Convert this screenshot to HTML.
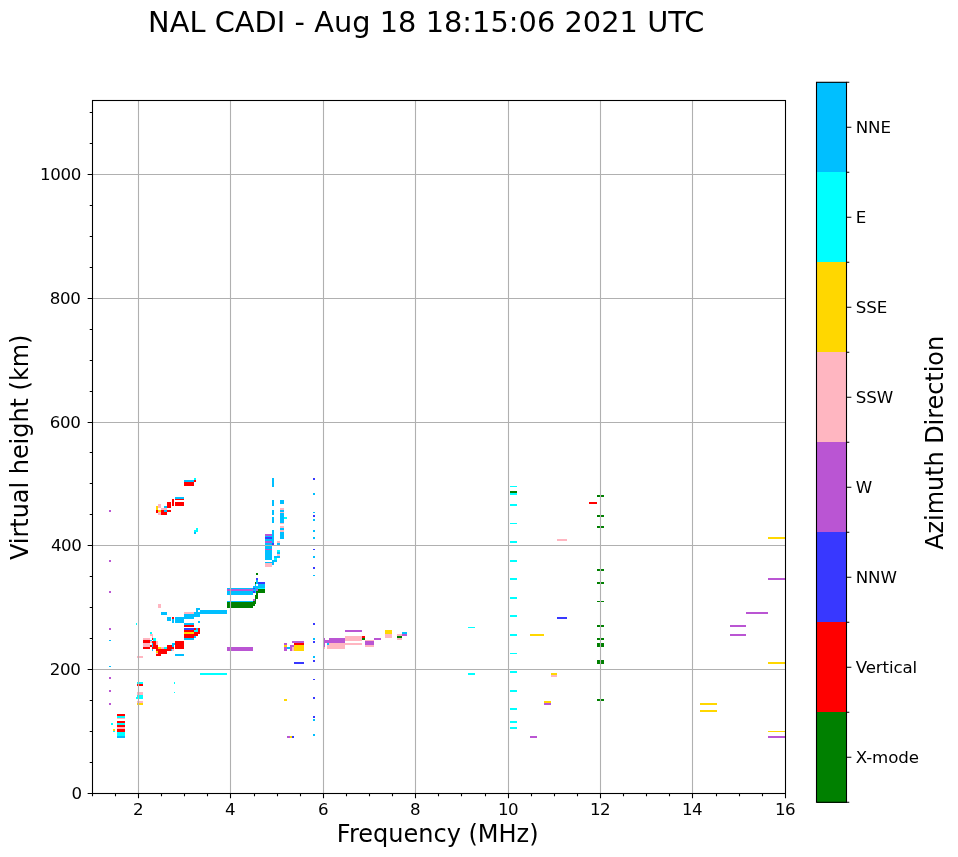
<!DOCTYPE html>
<html lang="en"><head><meta charset="utf-8"><title>NAL CADI ionogram</title>
<style>html,body{margin:0;padding:0;background:#fff}body{width:958px;height:857px;overflow:hidden}svg{display:block}text{font-family:"DejaVu Sans","Liberation Sans",sans-serif;fill:#000}.t{font-size:16.67px;letter-spacing:-0.37px}.c{font-size:16.67px;letter-spacing:-0.14px}.l{font-size:24px}.g{stroke:#b0b0b0;stroke-width:1.1}.k{stroke:#000;stroke-width:1.1}.d rect{shape-rendering:crispEdges}</style></head><body>
<svg width="958" height="857" viewBox="0 0 958 857">
<rect width="958" height="857" fill="#fff"/>
<text x="148.1" y="31.6" style="font-size:28.8px;letter-spacing:0.042px">NAL CADI - Aug 18 18:15:06 2021 UTC</text>
<g class="d">
<rect x="109.0" y="509.9" width="2.0" height="2.1" fill="#ba55d3"/>
<rect x="183.9" y="482.0" width="10.0" height="4.0" fill="#ff0000"/>
<rect x="183.9" y="480.1" width="10.0" height="1.9" fill="#00bfff"/>
<rect x="193.9" y="478.0" width="2.1" height="2.1" fill="#00ffff"/>
<rect x="193.9" y="480.1" width="2.1" height="1.9" fill="#ff0000"/>
<rect x="175.0" y="497.0" width="8.9" height="1.9" fill="#00bfff"/>
<rect x="175.0" y="498.9" width="8.9" height="1.3" fill="#ff0000"/>
<rect x="175.0" y="502.0" width="8.9" height="4.0" fill="#ff0000"/>
<rect x="171.9" y="498.9" width="1.9" height="7.1" fill="#ff0000"/>
<rect x="167.0" y="502.0" width="4.0" height="6.0" fill="#ff0000"/>
<rect x="164.0" y="506.0" width="3.0" height="2.0" fill="#00bfff"/>
<rect x="158.0" y="504.0" width="3.0" height="4.0" fill="#ffb6c1"/>
<rect x="156.0" y="506.0" width="2.0" height="3.9" fill="#ffd700"/>
<rect x="161.0" y="508.0" width="6.0" height="1.9" fill="#ffb6c1"/>
<rect x="156.0" y="509.9" width="2.0" height="3.0" fill="#ff0000"/>
<rect x="158.0" y="509.9" width="3.0" height="2.1" fill="#ffd700"/>
<rect x="161.0" y="509.9" width="3.0" height="2.1" fill="#ff0000"/>
<rect x="164.0" y="509.9" width="3.0" height="2.1" fill="#00bfff"/>
<rect x="167.0" y="509.9" width="4.0" height="2.1" fill="#ff0000"/>
<rect x="158.0" y="512.0" width="3.0" height="2.9" fill="#ffb6c1"/>
<rect x="161.0" y="512.0" width="6.0" height="2.9" fill="#ff0000"/>
<rect x="196.1" y="528.1" width="2.0" height="4.0" fill="#00ffff"/>
<rect x="193.9" y="529.9" width="2.1" height="2.8" fill="#00ffff"/>
<rect x="193.9" y="532.1" width="2.1" height="1.9" fill="#00bfff"/>
<rect x="137.0" y="656.3" width="5.9" height="1.4" fill="#ffb6c1"/>
<rect x="150.0" y="631.9" width="2.2" height="2.1" fill="#00ffff"/>
<rect x="150.0" y="634.2" width="2.8" height="1.8" fill="#ffb6c1"/>
<rect x="152.0" y="636.0" width="1.0" height="1.9" fill="#ffb6c1"/>
<rect x="152.0" y="637.8" width="1.0" height="2.2" fill="#ff0000"/>
<rect x="153.0" y="638.0" width="3.1" height="3.0" fill="#00ffff"/>
<rect x="150.0" y="639.9" width="2.2" height="1.1" fill="#00bfff"/>
<rect x="143.0" y="638.2" width="7.0" height="1.9" fill="#ffb6c1"/>
<rect x="143.0" y="640.0" width="7.0" height="2.9" fill="#ff0000"/>
<rect x="143.0" y="643.0" width="7.0" height="3.9" fill="#ffb6c1"/>
<rect x="143.0" y="646.9" width="7.0" height="2.1" fill="#ff0000"/>
<rect x="150.4" y="641.0" width="1.6" height="2.2" fill="#ffb6c1"/>
<rect x="150.0" y="645.0" width="2.0" height="1.9" fill="#ff0000"/>
<rect x="152.0" y="641.0" width="4.1" height="8.0" fill="#ff0000"/>
<rect x="152.0" y="643.0" width="1.0" height="3.9" fill="#00bfff"/>
<rect x="156.0" y="641.0" width="1.9" height="4.1" fill="#ffb6c1"/>
<rect x="156.0" y="645.0" width="1.9" height="5.9" fill="#ff0000"/>
<rect x="152.0" y="649.0" width="1.0" height="2.0" fill="#00bfff"/>
<rect x="158.0" y="646.9" width="3.1" height="2.1" fill="#ffd700"/>
<rect x="161.1" y="646.9" width="3.0" height="2.1" fill="#ffb6c1"/>
<rect x="164.1" y="646.9" width="2.9" height="2.1" fill="#00ffff"/>
<rect x="156.0" y="649.0" width="14.9" height="2.0" fill="#ff0000"/>
<rect x="167.0" y="645.0" width="5.0" height="3.9" fill="#ff0000"/>
<rect x="172.0" y="646.9" width="2.1" height="2.1" fill="#ff0000"/>
<rect x="172.0" y="643.0" width="3.0" height="2.1" fill="#00bfff"/>
<rect x="172.0" y="645.0" width="2.1" height="1.9" fill="#00bfff"/>
<rect x="175.0" y="641.0" width="9.0" height="8.0" fill="#ff0000"/>
<rect x="171.0" y="649.0" width="1.1" height="2.0" fill="#00bfff"/>
<rect x="172.0" y="649.0" width="2.1" height="2.0" fill="#ffb6c1"/>
<rect x="156.0" y="651.0" width="1.9" height="2.0" fill="#ffd700"/>
<rect x="158.0" y="651.0" width="9.0" height="2.8" fill="#ff0000"/>
<rect x="156.0" y="653.0" width="1.9" height="0.9" fill="#ffb6c1"/>
<rect x="156.0" y="653.9" width="5.0" height="2.1" fill="#ff0000"/>
<rect x="175.0" y="653.9" width="9.0" height="2.1" fill="#00bfff"/>
<rect x="158.0" y="604.0" width="3.0" height="4.0" fill="#ffb6c1"/>
<rect x="161.0" y="611.9" width="6.1" height="3.1" fill="#00bfff"/>
<rect x="167.1" y="616.9" width="3.9" height="4.1" fill="#00bfff"/>
<rect x="172.0" y="616.9" width="2.0" height="2.1" fill="#ff0000"/>
<rect x="172.0" y="619.0" width="2.0" height="4.0" fill="#00bfff"/>
<rect x="175.0" y="616.9" width="9.0" height="6.1" fill="#00bfff"/>
<rect x="184.0" y="611.9" width="10.0" height="2.0" fill="#ffb6c1"/>
<rect x="184.0" y="613.9" width="10.0" height="5.1" fill="#00bfff"/>
<rect x="194.0" y="611.9" width="6.1" height="5.0" fill="#00bfff"/>
<rect x="196.0" y="608.0" width="4.1" height="2.1" fill="#00bfff"/>
<rect x="196.0" y="610.0" width="2.0" height="1.9" fill="#00bfff"/>
<rect x="200.0" y="610.0" width="26.9" height="3.9" fill="#00bfff"/>
<rect x="198.0" y="621.0" width="2.1" height="2.0" fill="#00bfff"/>
<rect x="184.0" y="623.0" width="10.0" height="1.9" fill="#00bfff"/>
<rect x="184.0" y="624.9" width="10.0" height="2.0" fill="#ff0000"/>
<rect x="184.0" y="628.0" width="10.0" height="1.9" fill="#3838ff"/>
<rect x="184.0" y="629.9" width="10.0" height="2.1" fill="#ff0000"/>
<rect x="184.0" y="632.0" width="10.0" height="2.0" fill="#ffd700"/>
<rect x="184.0" y="634.0" width="10.0" height="4.0" fill="#ff0000"/>
<rect x="184.0" y="638.0" width="10.0" height="2.0" fill="#00bfff"/>
<rect x="194.0" y="628.0" width="2.0" height="1.9" fill="#ff0000"/>
<rect x="196.0" y="628.0" width="2.0" height="1.9" fill="#00bfff"/>
<rect x="198.0" y="628.0" width="2.1" height="1.9" fill="#ff0000"/>
<rect x="194.0" y="629.9" width="4.0" height="2.1" fill="#00ffff"/>
<rect x="198.0" y="629.9" width="2.1" height="2.1" fill="#ff0000"/>
<rect x="194.0" y="632.0" width="6.1" height="2.0" fill="#ff0000"/>
<rect x="194.0" y="634.0" width="4.0" height="2.0" fill="#ff0000"/>
<rect x="194.0" y="636.0" width="2.0" height="2.0" fill="#00bfff"/>
<rect x="256.0" y="573.0" width="2.0" height="2.0" fill="#008000"/>
<rect x="256.0" y="578.0" width="2.0" height="1.9" fill="#3838ff"/>
<rect x="256.0" y="579.9" width="2.0" height="4.1" fill="#00bfff"/>
<rect x="255.0" y="581.9" width="1.0" height="2.1" fill="#008000"/>
<rect x="258.0" y="581.9" width="7.0" height="2.1" fill="#3838ff"/>
<rect x="258.0" y="584.0" width="7.0" height="3.9" fill="#00bfff"/>
<rect x="255.0" y="584.0" width="1.0" height="2.2" fill="#00bfff"/>
<rect x="258.0" y="587.9" width="7.0" height="1.1" fill="#00ffff"/>
<rect x="258.0" y="589.0" width="7.0" height="3.9" fill="#008000"/>
<rect x="253.0" y="586.0" width="3.0" height="7.0" fill="#00bfff"/>
<rect x="253.0" y="587.9" width="2.0" height="1.1" fill="#3838ff"/>
<rect x="253.0" y="591.0" width="2.0" height="1.9" fill="#3838ff"/>
<rect x="256.0" y="586.0" width="2.0" height="3.0" fill="#00bfff"/>
<rect x="256.0" y="589.0" width="2.0" height="2.0" fill="#ba55d3"/>
<rect x="227.0" y="587.9" width="26.0" height="1.1" fill="#00bfff"/>
<rect x="227.0" y="589.0" width="26.0" height="2.0" fill="#ba55d3"/>
<rect x="227.0" y="591.0" width="26.0" height="3.9" fill="#00bfff"/>
<rect x="256.0" y="591.0" width="2.0" height="8.0" fill="#008000"/>
<rect x="255.0" y="594.9" width="1.0" height="9.1" fill="#008000"/>
<rect x="253.0" y="599.0" width="2.0" height="2.0" fill="#ba55d3"/>
<rect x="227.0" y="601.0" width="26.0" height="1.0" fill="#00bfff"/>
<rect x="227.0" y="602.0" width="26.0" height="6.0" fill="#008000"/>
<rect x="253.0" y="601.0" width="2.0" height="5.0" fill="#008000"/>
<rect x="226.9" y="646.9" width="26.0" height="3.8" fill="#ba55d3"/>
<rect x="271.9" y="477.9" width="2.1" height="9.0" fill="#00bfff"/>
<rect x="271.9" y="500.0" width="2.1" height="5.8" fill="#00bfff"/>
<rect x="271.9" y="510.0" width="2.1" height="4.7" fill="#00bfff"/>
<rect x="271.9" y="516.9" width="2.1" height="5.8" fill="#00bfff"/>
<rect x="271.9" y="530.1" width="2.1" height="15.8" fill="#00bfff"/>
<rect x="271.9" y="543.0" width="2.1" height="2.3" fill="#3838ff"/>
<rect x="264.9" y="534.0" width="7.0" height="2.0" fill="#ba55d3"/>
<rect x="264.9" y="536.0" width="7.0" height="1.2" fill="#00bfff"/>
<rect x="264.9" y="537.1" width="7.0" height="1.8" fill="#3838ff"/>
<rect x="264.9" y="538.9" width="7.0" height="2.3" fill="#00bfff"/>
<rect x="264.9" y="541.2" width="7.0" height="1.8" fill="#ba55d3"/>
<rect x="264.9" y="543.0" width="7.0" height="6.1" fill="#00bfff"/>
<rect x="264.9" y="549.0" width="7.0" height="1.1" fill="#ba55d3"/>
<rect x="264.9" y="550.1" width="7.0" height="9.8" fill="#00bfff"/>
<rect x="264.9" y="562.0" width="7.0" height="1.1" fill="#00bfff"/>
<rect x="264.9" y="563.0" width="7.0" height="3.9" fill="#ffb6c1"/>
<rect x="280.0" y="500.0" width="4.1" height="4.1" fill="#00bfff"/>
<rect x="280.0" y="507.9" width="4.1" height="2.0" fill="#ffb6c1"/>
<rect x="280.0" y="509.9" width="4.1" height="2.1" fill="#00bfff"/>
<rect x="280.0" y="512.0" width="4.1" height="0.9" fill="#ffb6c1"/>
<rect x="280.0" y="513.0" width="4.1" height="9.8" fill="#00bfff"/>
<rect x="280.0" y="522.8" width="4.1" height="1.2" fill="#ffb6c1"/>
<rect x="280.0" y="526.0" width="4.1" height="2.0" fill="#ffb6c1"/>
<rect x="280.0" y="528.0" width="4.1" height="2.1" fill="#00bfff"/>
<rect x="280.0" y="530.1" width="4.1" height="2.0" fill="#ffb6c1"/>
<rect x="280.0" y="532.1" width="4.1" height="6.8" fill="#00bfff"/>
<rect x="284.1" y="516.9" width="3.0" height="1.9" fill="#00ffff"/>
<rect x="277.1" y="541.0" width="2.9" height="2.0" fill="#ffb6c1"/>
<rect x="277.1" y="543.0" width="2.9" height="2.3" fill="#00bfff"/>
<rect x="277.1" y="550.1" width="2.9" height="2.0" fill="#00ffff"/>
<rect x="277.1" y="552.1" width="2.9" height="2.0" fill="#00bfff"/>
<rect x="277.1" y="554.0" width="2.9" height="2.0" fill="#ffb6c1"/>
<rect x="274.0" y="556.0" width="6.0" height="1.8" fill="#00bfff"/>
<rect x="274.0" y="557.8" width="3.0" height="2.1" fill="#00ffff"/>
<rect x="271.9" y="559.9" width="5.1" height="2.1" fill="#00bfff"/>
<rect x="271.9" y="562.0" width="2.1" height="2.8" fill="#00bfff"/>
<rect x="313.0" y="478.0" width="2.1" height="2.0" fill="#3838ff"/>
<rect x="313.0" y="493.0" width="2.1" height="2.0" fill="#00bfff"/>
<rect x="313.0" y="512.0" width="2.1" height="0.8" fill="#00bfff"/>
<rect x="313.0" y="515.1" width="2.1" height="2.0" fill="#3838ff"/>
<rect x="313.0" y="519.0" width="2.1" height="2.0" fill="#00bfff"/>
<rect x="313.0" y="530.0" width="2.1" height="2.0" fill="#00bfff"/>
<rect x="313.0" y="537.0" width="2.1" height="2.0" fill="#00bfff"/>
<rect x="313.0" y="549.1" width="2.1" height="1.0" fill="#3838ff"/>
<rect x="313.0" y="556.1" width="2.1" height="2.0" fill="#00bfff"/>
<rect x="313.0" y="567.0" width="2.1" height="2.0" fill="#3838ff"/>
<rect x="313.0" y="575.0" width="2.1" height="1.0" fill="#00bfff"/>
<rect x="313.0" y="623.1" width="2.1" height="2.0" fill="#3838ff"/>
<rect x="313.0" y="678.9" width="2.1" height="1.0" fill="#3838ff"/>
<rect x="313.0" y="697.1" width="2.1" height="2.0" fill="#3838ff"/>
<rect x="313.0" y="716.0" width="2.1" height="2.0" fill="#3838ff"/>
<rect x="313.0" y="719.0" width="2.1" height="2.0" fill="#00bfff"/>
<rect x="313.0" y="734.0" width="2.1" height="2.0" fill="#00bfff"/>
<rect x="284.0" y="643.0" width="3.0" height="2.1" fill="#ba55d3"/>
<rect x="284.0" y="645.0" width="3.0" height="1.9" fill="#ffd700"/>
<rect x="284.0" y="646.9" width="3.0" height="4.1" fill="#ba55d3"/>
<rect x="287.0" y="646.9" width="2.9" height="2.1" fill="#00bfff"/>
<rect x="290.0" y="645.0" width="2.0" height="5.9" fill="#ba55d3"/>
<rect x="292.0" y="645.0" width="2.0" height="1.9" fill="#ba55d3"/>
<rect x="292.0" y="646.9" width="2.0" height="4.1" fill="#ffb6c1"/>
<rect x="292.0" y="641.0" width="12.0" height="2.0" fill="#ba55d3"/>
<rect x="294.0" y="643.0" width="10.0" height="2.1" fill="#ff0000"/>
<rect x="294.0" y="645.0" width="10.0" height="5.9" fill="#ffd700"/>
<rect x="294.0" y="662.0" width="10.0" height="2.0" fill="#3838ff"/>
<rect x="313.0" y="638.0" width="2.1" height="2.1" fill="#00bfff"/>
<rect x="313.0" y="641.0" width="2.1" height="2.0" fill="#3838ff"/>
<rect x="313.0" y="656.0" width="2.1" height="2.0" fill="#00bfff"/>
<rect x="313.0" y="660.0" width="2.1" height="1.9" fill="#3838ff"/>
<rect x="324.0" y="638.0" width="1.0" height="9.0" fill="#ba55d3"/>
<rect x="325.0" y="640.0" width="11.0" height="2.9" fill="#ba55d3"/>
<rect x="329.0" y="638.0" width="7.0" height="2.1" fill="#ba55d3"/>
<rect x="327.0" y="643.0" width="9.0" height="6.0" fill="#ffb6c1"/>
<rect x="327.0" y="643.0" width="2.0" height="2.1" fill="#00bfff"/>
<rect x="324.0" y="646.9" width="1.0" height="2.1" fill="#ffb6c1"/>
<rect x="325.0" y="640.0" width="20.0" height="2.9" fill="#ba55d3"/>
<rect x="329.2" y="638.0" width="15.9" height="2.1" fill="#ba55d3"/>
<rect x="327.1" y="643.0" width="18.0" height="5.9" fill="#ffb6c1"/>
<rect x="327.1" y="643.0" width="2.1" height="2.1" fill="#00bfff"/>
<rect x="345.1" y="630.0" width="16.9" height="2.0" fill="#ba55d3"/>
<rect x="345.1" y="636.0" width="16.9" height="4.9" fill="#ffb6c1"/>
<rect x="345.1" y="643.0" width="16.9" height="2.1" fill="#ffb6c1"/>
<rect x="362.0" y="636.0" width="3.1" height="2.0" fill="#ff0000"/>
<rect x="362.0" y="638.0" width="3.1" height="2.1" fill="#008000"/>
<rect x="365.1" y="640.0" width="8.9" height="0.8" fill="#ffb6c1"/>
<rect x="365.1" y="640.9" width="8.9" height="4.2" fill="#ba55d3"/>
<rect x="365.1" y="645.1" width="8.9" height="1.9" fill="#ffb6c1"/>
<rect x="374.0" y="638.0" width="7.1" height="2.1" fill="#ba55d3"/>
<rect x="385.0" y="630.0" width="7.0" height="4.0" fill="#ffd700"/>
<rect x="385.0" y="634.0" width="7.0" height="4.0" fill="#ffb6c1"/>
<rect x="397.0" y="634.0" width="4.9" height="2.0" fill="#ffb6c1"/>
<rect x="397.0" y="636.0" width="4.9" height="2.0" fill="#008000"/>
<rect x="397.0" y="638.0" width="4.9" height="1.9" fill="#ffb6c1"/>
<rect x="401.9" y="632.0" width="5.0" height="2.0" fill="#00bfff"/>
<rect x="401.9" y="634.0" width="5.0" height="2.0" fill="#ba55d3"/>
<rect x="109.0" y="666.0" width="2.1" height="0.8" fill="#00bfff"/>
<rect x="109.0" y="676.9" width="2.1" height="2.1" fill="#ba55d3"/>
<rect x="109.0" y="689.9" width="2.1" height="2.1" fill="#ba55d3"/>
<rect x="109.0" y="702.9" width="2.1" height="2.1" fill="#ba55d3"/>
<rect x="137.0" y="682.0" width="6.1" height="2.0" fill="#00ffff"/>
<rect x="137.0" y="683.9" width="6.1" height="2.1" fill="#ff0000"/>
<rect x="137.0" y="692.0" width="6.1" height="3.0" fill="#ffb6c1"/>
<rect x="137.0" y="695.0" width="6.1" height="4.0" fill="#00ffff"/>
<rect x="135.9" y="697.0" width="1.0" height="2.0" fill="#00ffff"/>
<rect x="137.0" y="700.9" width="6.1" height="2.1" fill="#ffb6c1"/>
<rect x="137.0" y="703.0" width="6.1" height="2.0" fill="#ffd700"/>
<rect x="173.9" y="682.0" width="1.0" height="2.0" fill="#00ffff"/>
<rect x="173.9" y="692.0" width="1.0" height="0.9" fill="#00ffff"/>
<rect x="117.0" y="714.0" width="7.9" height="2.0" fill="#ff0000"/>
<rect x="117.0" y="716.0" width="7.9" height="2.1" fill="#00ffff"/>
<rect x="117.0" y="718.0" width="7.9" height="0.9" fill="#ffb6c1"/>
<rect x="117.0" y="721.0" width="7.9" height="2.0" fill="#ff0000"/>
<rect x="117.0" y="723.0" width="7.9" height="2.1" fill="#00ffff"/>
<rect x="117.0" y="725.0" width="7.9" height="2.0" fill="#ff0000"/>
<rect x="117.0" y="727.0" width="7.9" height="2.1" fill="#ffb6c1"/>
<rect x="117.0" y="729.0" width="7.9" height="3.0" fill="#ff0000"/>
<rect x="117.0" y="732.0" width="7.9" height="3.9" fill="#00ffff"/>
<rect x="117.0" y="735.9" width="7.9" height="2.1" fill="#00bfff"/>
<rect x="111.0" y="723.0" width="2.0" height="2.1" fill="#00ffff"/>
<rect x="113.0" y="729.0" width="2.0" height="2.0" fill="#ffd700"/>
<rect x="113.0" y="731.0" width="2.0" height="1.0" fill="#00ffff"/>
<rect x="108.9" y="559.9" width="2.0" height="2.0" fill="#ba55d3"/>
<rect x="108.9" y="590.9" width="2.0" height="2.0" fill="#ba55d3"/>
<rect x="108.9" y="628.0" width="2.0" height="2.0" fill="#ba55d3"/>
<rect x="108.9" y="639.9" width="2.0" height="1.0" fill="#00bfff"/>
<rect x="136.0" y="623.0" width="1.0" height="2.0" fill="#00ffff"/>
<rect x="200.0" y="672.8" width="27.0" height="2.2" fill="#00ffff"/>
<rect x="510.1" y="485.7" width="6.9" height="1.3" fill="#00ffff"/>
<rect x="510.1" y="490.9" width="6.9" height="2.2" fill="#008000"/>
<rect x="510.1" y="493.1" width="6.9" height="1.9" fill="#00ffff"/>
<rect x="510.1" y="504.0" width="6.9" height="2.0" fill="#00ffff"/>
<rect x="510.1" y="522.7" width="6.9" height="1.3" fill="#00ffff"/>
<rect x="510.1" y="541.0" width="6.9" height="2.0" fill="#00ffff"/>
<rect x="510.1" y="560.1" width="6.9" height="1.9" fill="#00ffff"/>
<rect x="510.1" y="578.0" width="6.9" height="2.0" fill="#00ffff"/>
<rect x="510.1" y="597.1" width="6.9" height="2.0" fill="#00ffff"/>
<rect x="556.9" y="539.0" width="10.2" height="1.9" fill="#ffb6c1"/>
<rect x="510.0" y="615.0" width="7.0" height="2.0" fill="#00ffff"/>
<rect x="510.0" y="634.1" width="7.0" height="2.0" fill="#00ffff"/>
<rect x="510.0" y="652.8" width="7.0" height="1.1" fill="#00ffff"/>
<rect x="510.0" y="671.0" width="7.0" height="2.0" fill="#00ffff"/>
<rect x="510.0" y="690.1" width="7.0" height="2.0" fill="#00ffff"/>
<rect x="510.0" y="708.0" width="7.0" height="2.0" fill="#00ffff"/>
<rect x="510.0" y="721.1" width="7.0" height="2.0" fill="#00ffff"/>
<rect x="510.0" y="727.1" width="7.0" height="2.0" fill="#00ffff"/>
<rect x="468.0" y="626.7" width="7.0" height="1.3" fill="#00ffff"/>
<rect x="468.0" y="672.9" width="7.0" height="2.0" fill="#00ffff"/>
<rect x="557.0" y="616.9" width="10.0" height="2.0" fill="#3838ff"/>
<rect x="529.9" y="634.1" width="14.0" height="2.0" fill="#ffd700"/>
<rect x="550.9" y="672.9" width="6.0" height="2.0" fill="#ffd700"/>
<rect x="550.9" y="674.9" width="6.0" height="2.0" fill="#ffb6c1"/>
<rect x="543.9" y="701.0" width="7.0" height="2.0" fill="#ffd700"/>
<rect x="543.9" y="703.0" width="7.0" height="2.0" fill="#ba55d3"/>
<rect x="529.9" y="735.9" width="7.0" height="2.0" fill="#ba55d3"/>
<rect x="596.9" y="495.1" width="7.3" height="2.0" fill="#008000"/>
<rect x="589.0" y="501.8" width="8.1" height="2.0" fill="#ff0000"/>
<rect x="596.9" y="515.0" width="7.3" height="2.0" fill="#008000"/>
<rect x="596.9" y="525.9" width="7.3" height="2.0" fill="#008000"/>
<rect x="596.9" y="569.1" width="7.3" height="2.0" fill="#008000"/>
<rect x="596.9" y="581.9" width="7.3" height="2.0" fill="#008000"/>
<rect x="596.9" y="601.0" width="7.3" height="1.1" fill="#008000"/>
<rect x="596.9" y="625.1" width="7.3" height="2.0" fill="#008000"/>
<rect x="596.9" y="637.9" width="7.3" height="1.7" fill="#008000"/>
<rect x="596.9" y="643.0" width="7.3" height="3.9" fill="#008000"/>
<rect x="596.9" y="660.1" width="7.3" height="3.9" fill="#008000"/>
<rect x="596.9" y="699.0" width="7.3" height="2.0" fill="#008000"/>
<rect x="768.1" y="536.9" width="17.4" height="2.0" fill="#ffd700"/>
<rect x="768.1" y="577.7" width="17.4" height="2.0" fill="#ba55d3"/>
<rect x="746.1" y="611.8" width="22.0" height="2.1" fill="#ba55d3"/>
<rect x="730.0" y="625.0" width="16.1" height="1.9" fill="#ba55d3"/>
<rect x="730.0" y="634.0" width="16.1" height="1.9" fill="#ba55d3"/>
<rect x="768.1" y="661.9" width="17.4" height="2.1" fill="#ffd700"/>
<rect x="700.1" y="702.9" width="16.9" height="2.0" fill="#ffd700"/>
<rect x="700.1" y="710.0" width="16.9" height="2.0" fill="#ffd700"/>
<rect x="768.1" y="730.8" width="17.4" height="1.2" fill="#ffd700"/>
<rect x="768.1" y="735.9" width="17.4" height="2.0" fill="#ba55d3"/>
<rect x="284.0" y="699.0" width="3.0" height="2.0" fill="#ffd700"/>
<rect x="287.0" y="736.0" width="3.0" height="2.0" fill="#ba55d3"/>
<rect x="290.0" y="736.0" width="2.0" height="2.0" fill="#ffd700"/>
<rect x="292.0" y="736.0" width="2.0" height="2.0" fill="#3838ff"/>
</g>
<path class="g" fill="none" d="M138.50 100.5V793.5M230.50 100.5V793.5M323.50 100.5V793.5M415.50 100.5V793.5M508.50 100.5V793.5M600.50 100.5V793.5M692.50 100.5V793.5M92.5 669.50H785.5M92.5 545.50H785.5M92.5 422.50H785.5M92.5 298.50H785.5M92.5 174.50H785.5"/>
<path class="k" fill="none" d="M92.50 793.5v2.78M115.50 793.5v2.78M138.50 793.5v4.86M161.50 793.5v2.78M184.50 793.5v2.78M207.50 793.5v2.78M230.50 793.5v4.86M254.50 793.5v2.78M277.50 793.5v2.78M300.50 793.5v2.78M323.50 793.5v4.86M346.50 793.5v2.78M369.50 793.5v2.78M392.50 793.5v2.78M415.50 793.5v4.86M438.50 793.5v2.78M461.50 793.5v2.78M485.50 793.5v2.78M508.50 793.5v4.86M531.50 793.5v2.78M554.50 793.5v2.78M577.50 793.5v2.78M600.50 793.5v4.86M623.50 793.5v2.78M646.50 793.5v2.78M669.50 793.5v2.78M692.50 793.5v4.86M716.50 793.5v2.78M739.50 793.5v2.78M762.50 793.5v2.78M785.50 793.5v4.86M92.5 793.50h-4.86M92.5 762.50h-2.78M92.5 731.50h-2.78M92.5 700.50h-2.78M92.5 669.50h-4.86M92.5 638.50h-2.78M92.5 607.50h-2.78M92.5 576.50h-2.78M92.5 545.50h-4.86M92.5 514.50h-2.78M92.5 483.50h-2.78M92.5 452.50h-2.78M92.5 422.50h-4.86M92.5 391.50h-2.78M92.5 360.50h-2.78M92.5 329.50h-2.78M92.5 298.50h-4.86M92.5 267.50h-2.78M92.5 236.50h-2.78M92.5 205.50h-2.78M92.5 174.50h-4.86M92.5 143.50h-2.78M92.5 112.50h-2.78"/>
<rect class="k" fill="none" x="92.5" y="100.5" width="693.00" height="693.00"/>
<text class="t" x="138.20" y="815" text-anchor="middle">2</text>
<text class="t" x="230.20" y="815" text-anchor="middle">4</text>
<text class="t" x="323.20" y="815" text-anchor="middle">6</text>
<text class="t" x="415.20" y="815" text-anchor="middle">8</text>
<text class="t" x="498.10" y="815">1<tspan dx="-0.4">0</tspan></text>
<text class="t" x="590.10" y="815">1<tspan dx="-0.4">2</tspan></text>
<text class="t" x="682.10" y="815">1<tspan dx="-0.4">4</tspan></text>
<text class="t" x="775.10" y="815">1<tspan dx="-0.4">6</tspan></text>
<text class="t" x="71.4" y="798.60">0</text>
<text class="t" x="49.7" y="674.60">200</text>
<text class="t" x="50.9" y="550.60">400</text>
<text class="t" x="49.7" y="427.60">600</text>
<text class="t" x="49.7" y="303.60">800</text>
<text class="t" x="39.9" y="179.60">1<tspan dx="0.1">000</tspan></text>
<text class="l" x="437.7" y="841.5" text-anchor="middle">Frequency (MHz)</text>
<text class="l" transform="translate(28.3 447.3) rotate(-90)" text-anchor="middle" style="letter-spacing:-0.04px">Virtual height (km)</text>
<rect x="816.5" y="82.30" width="30.0" height="90.5" fill="#00bfff" shape-rendering="crispEdges"/>
<rect x="816.5" y="172.30" width="30.0" height="90.5" fill="#00ffff" shape-rendering="crispEdges"/>
<rect x="816.5" y="262.30" width="30.0" height="90.5" fill="#ffd700" shape-rendering="crispEdges"/>
<rect x="816.5" y="352.30" width="30.0" height="90.5" fill="#ffb6c1" shape-rendering="crispEdges"/>
<rect x="816.5" y="442.30" width="30.0" height="90.5" fill="#ba55d3" shape-rendering="crispEdges"/>
<rect x="816.5" y="532.30" width="30.0" height="90.5" fill="#3838ff" shape-rendering="crispEdges"/>
<rect x="816.5" y="622.30" width="30.0" height="90.5" fill="#ff0000" shape-rendering="crispEdges"/>
<rect x="816.5" y="712.30" width="30.0" height="90.5" fill="#008000" shape-rendering="crispEdges"/>
<path class="k" fill="none" d="M846.5 82.30h2.78M846.5 172.30h2.78M846.5 262.30h2.78M846.5 352.30h2.78M846.5 442.30h2.78M846.5 532.30h2.78M846.5 622.30h2.78M846.5 712.30h2.78M846.5 802.30h2.78M846.5 127.30h4.86M846.5 217.30h4.86M846.5 307.30h4.86M846.5 397.30h4.86M846.5 487.30h4.86M846.5 577.30h4.86M846.5 667.30h4.86M846.5 757.30h4.86"/>
<rect class="k" fill="none" x="816.5" y="82.3" width="30.0" height="720.0"/>
<text class="c" x="855.8" y="132.70">NNE</text>
<text class="c" x="855.8" y="222.70">E</text>
<text class="c" x="855.8" y="312.70">SSE</text>
<text class="c" x="855.8" y="402.70">SSW</text>
<text class="c" x="855.8" y="492.70">W</text>
<text class="c" x="855.8" y="582.70">NNW</text>
<text class="c" x="855.8" y="672.70">Vertical</text>
<text class="c" x="855.8" y="762.70">X-mode</text>
<text class="l" transform="translate(943.4 442.9) rotate(-90)" text-anchor="middle" style="letter-spacing:-0.06px">Azimuth Direction</text>
</svg></body></html>
